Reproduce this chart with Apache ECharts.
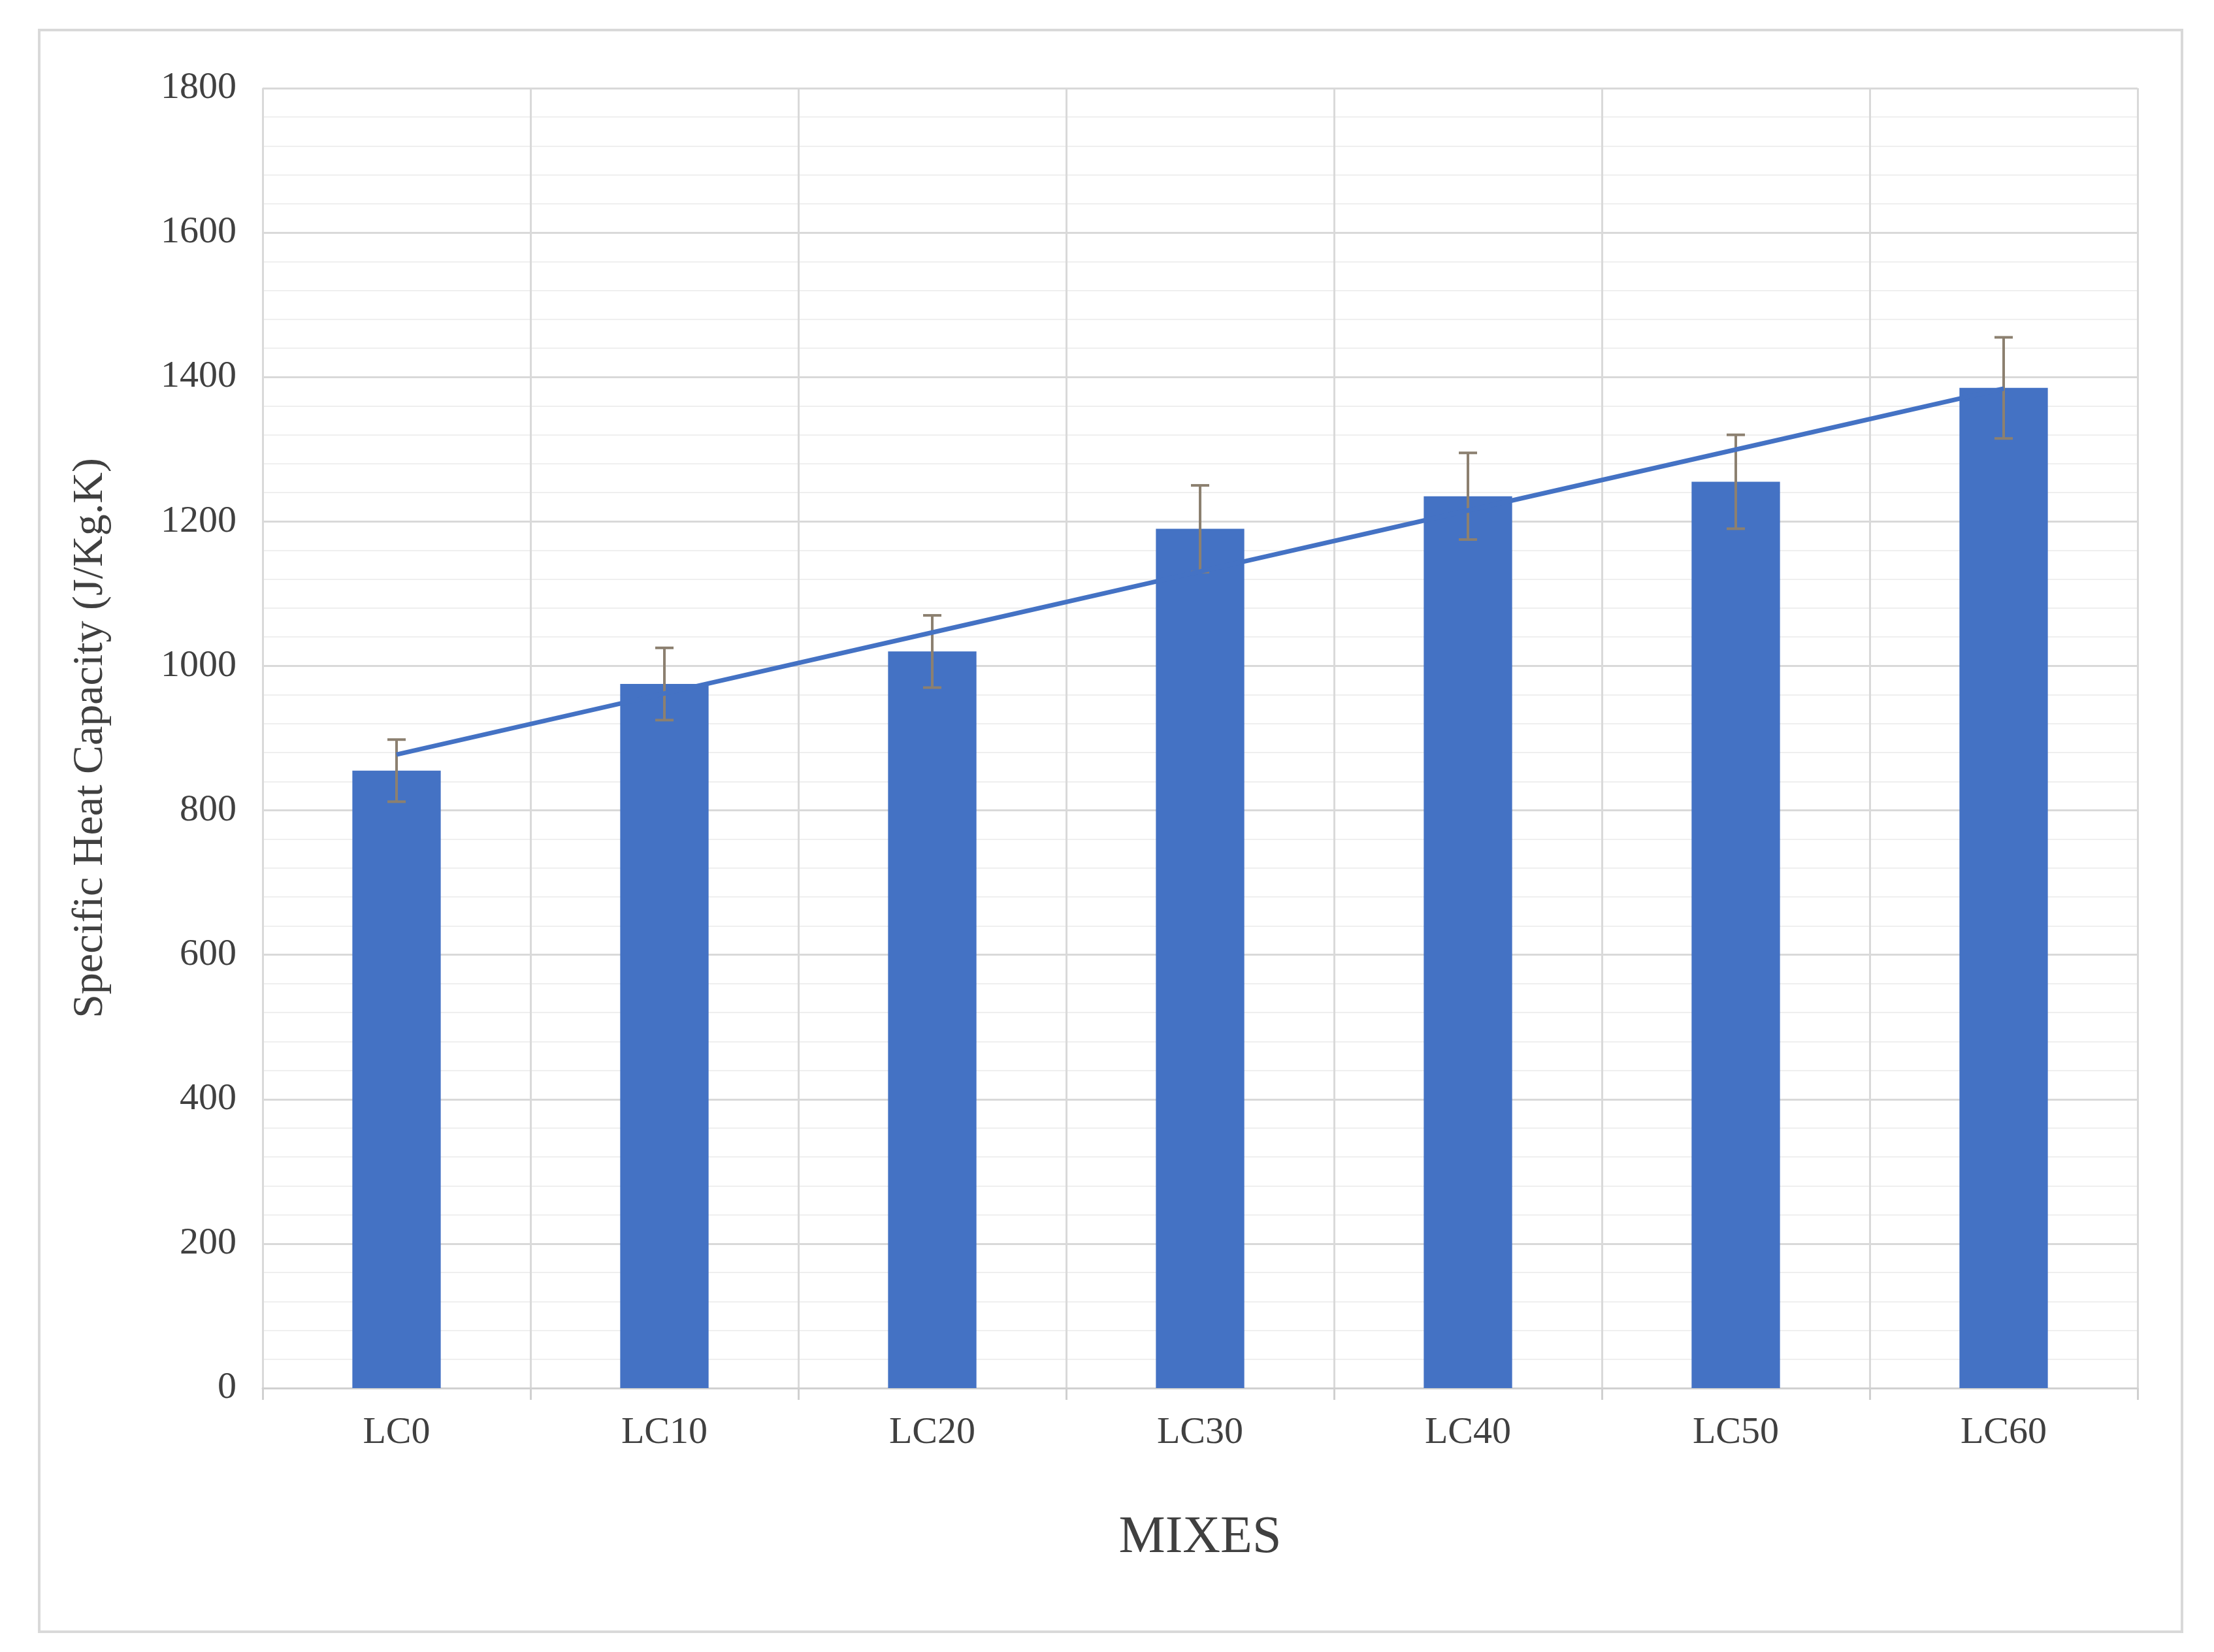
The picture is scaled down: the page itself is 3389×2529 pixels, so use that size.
<!DOCTYPE html>
<html><head><meta charset="utf-8">
<script src="https://cdn.jsdelivr.net/npm/echarts@6/dist/echarts.min.js"></script>
<style>html,body{margin:0;padding:0;background:#fff}#c{width:3389px;height:2529px}
#frame{position:absolute;left:58px;top:44px;width:3284px;height:2456px;border:4px solid #d9d9d9;box-sizing:border-box;pointer-events:none}</style>
</head><body><div id="c"></div><div id="frame"></div>
<script>
const categories = ['LC0','LC10','LC20','LC30','LC40','LC50','LC60'];
const values = [855, 975, 1020, 1190, 1235, 1255, 1385];
const errors = [43, 50, 50, 60, 60, 65, 70];
const yTicks = [0,200,400,600,800,1000,1200,1400,1600,1800];

// linear trendline (least squares) from the data
const n = values.length, mx = (n-1)/2, my = values.reduce((a,b)=>a+b,0)/n;
let sxy=0,sxx=0; values.forEach((v,i)=>{sxy+=(i-mx)*(v-my);sxx+=(i-mx)*(i-mx);});
const slope=sxy/sxx, icpt=my-slope*mx;
const trend = values.map((v,i)=>+(icpt+slope*i).toFixed(1));

const font = 'Liberation Serif';
const chart = echarts.init(document.getElementById('c'));
chart.setOption({
  animation:false,
  grid:{left:402,right:117,top:135,bottom:404},
  xAxis:[{type:'category',data:categories,
    axisLine:{lineStyle:{color:'#d0d0d0',width:3}},
    axisTick:{show:true,length:18,lineStyle:{color:'#d0d0d0',width:3}},
    splitLine:{show:true,lineStyle:{color:'#d9d9d9',width:3}},
    axisLabel:{color:'#404040',fontFamily:font,fontSize:58,margin:40},
    name:'MIXES',nameLocation:'middle',nameGap:190,
    nameTextStyle:{color:'#404040',fontFamily:font,fontSize:80}}],
  yAxis:[{type:'value',min:0,max:1800,interval:200,
    axisLine:{show:false},axisTick:{show:false},
    splitLine:{lineStyle:{color:'#d9d9d9',width:3}},
    minorTick:{show:false,splitNumber:5},
    minorSplitLine:{show:true,lineStyle:{color:'#efefef',width:2}},
    axisLabel:{color:'#404040',fontFamily:font,fontSize:58,margin:40,
      formatter:v=>yTicks.includes(v)?String(v):''},
    name:'Specific Heat Capacity (J/Kg.K)',nameLocation:'middle',nameGap:230,
    nameTextStyle:{color:'#404040',fontFamily:font,fontSize:66}}],
  series:[
    {type:'bar',data:values,barWidth:'33%',itemStyle:{color:'#4472C4'},z:2},
    {type:'custom',z:4,data:values.map((v,i)=>[i,v-errors[i],v+errors[i]]),
      renderItem:(p,api)=>{
        const lo=api.coord([api.value(0),api.value(1)]),hi=api.coord([api.value(0),api.value(2)]);
        const x=lo[0],w=14,st={stroke:'#8c8070',lineWidth:4};
        return {type:'group',children:[
          {type:'line',shape:{x1:x,y1:lo[1],x2:x,y2:hi[1]},style:st},
          {type:'line',shape:{x1:x-w,y1:hi[1],x2:x+w,y2:hi[1]},style:st},
          {type:'line',shape:{x1:x-w,y1:lo[1],x2:x+w,y2:lo[1]},style:st}]};
      }},
    {type:'line',data:trend,symbol:'none',z:5,lineStyle:{color:'#4472C4',width:7}}
  ]
});
</script></body></html>
